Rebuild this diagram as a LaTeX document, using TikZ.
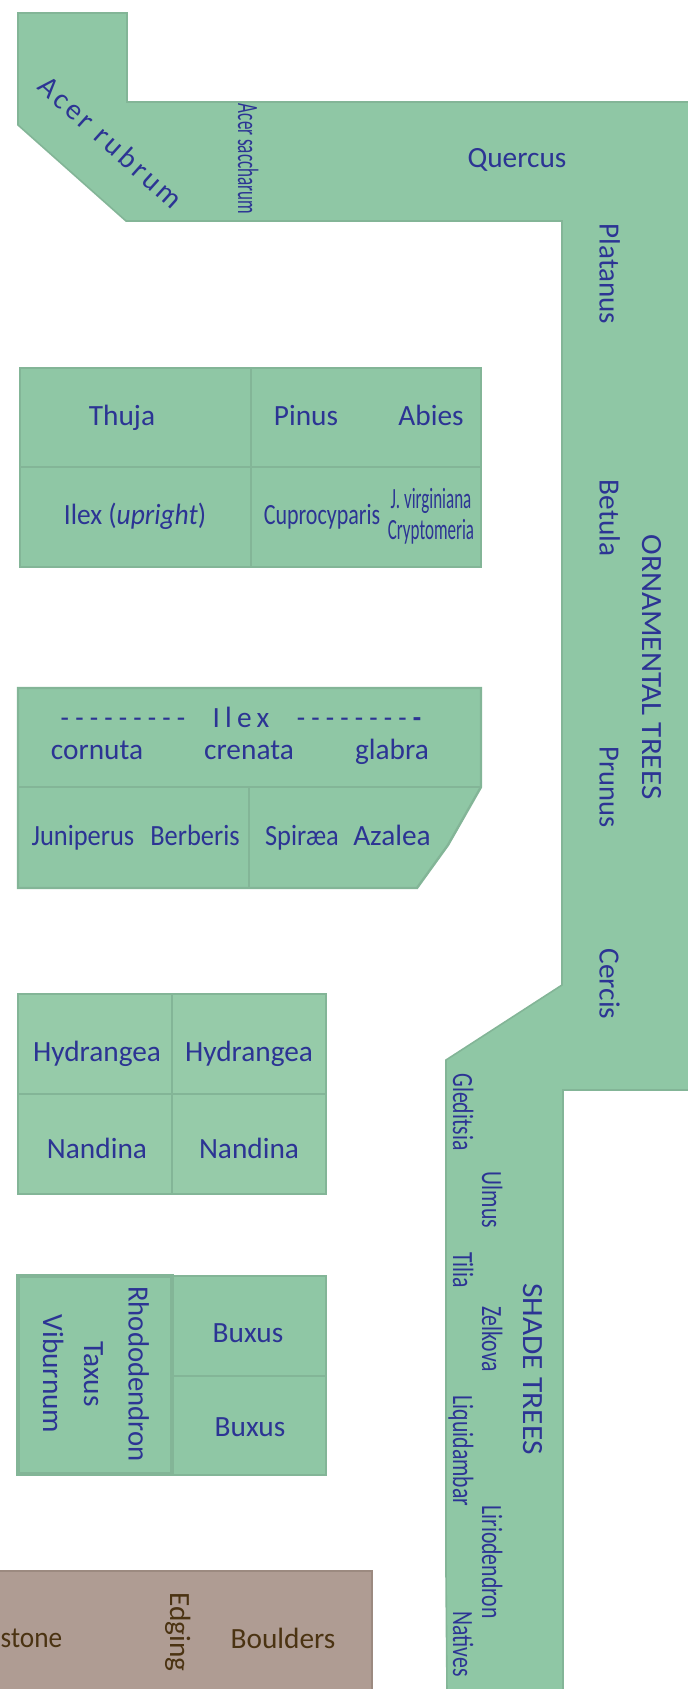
\documentclass[tikz,border=0pt]{standalone}
\usepackage{fontspec}
\setmainfont{Carlito}
\newfontfamily\spaced[LetterSpace=12]{Carlito}
\newfontfamily\spacedmore[LetterSpace=18]{Carlito}
\newcommand{\nar}[2]{\scalebox{#1}[1]{#2}}
\definecolor{bedgreen}{HTML}{8FC7A5}
\definecolor{bedpale}{HTML}{96CBA9}
\definecolor{bedline}{HTML}{83B597}
\definecolor{plantblue}{HTML}{2C3494}
\definecolor{stonefill}{HTML}{AF9C93}
\definecolor{stoneline}{HTML}{9C8A80}
\definecolor{stonetext}{HTML}{4B3312}

\begin{document}
\begin{tikzpicture}[x=.75pt,y=-.75pt,font=\fontsize{22}{24}\selectfont,inner sep=0pt]
        \tikzstyle{band}=[fill=bedgreen, draw=bedline, line width=1.2pt, line join=miter]
        \tikzstyle{bed}=[fill=bedgreen, draw=bedline, line width=1.8pt]
        \tikzstyle{palebed}=[fill=bedpale, draw=bedline, line width=1.8pt]
        \tikzstyle{inner}=[draw=bedline, line width=1.5pt]
        \tikzstyle{plant}=[text=plantblue, anchor=base]
        \tikzstyle{plantdown}=[text=plantblue, rotate=-90, anchor=base]
        \tikzstyle{rock}=[text=stonetext, anchor=base]

        \useasboundingbox (0,0) rectangle (687,1689);

        % tree belt
        \draw[band] (18,13) -- (127,13) -- (127,102) -- (690,102) -- (690,1090) -- (563,1090) -- (563,1692)
              -- (447,1692) -- (446,1572) -- (446,1060) -- (562,985) -- (562,221) -- (126,221) -- (18,125) -- cycle;

        \node[text=plantblue, rotate=-42] (rubrum) at (111,142) {\spaced Acer rubrum};
        \node[plantdown] (saccharum) at (238,159) {\nar{.58}{Acer saccharum}};
        \node[plant] (quercus) at (517,167) {Quercus};
        \node[plantdown] (platanus) at (599.5,274) {\nar{.99}{Platanus}};
        \node[plantdown] (betula) at (599.5,518) {Betula};
        \node[plantdown] (prunus) at (599.5,787) {\nar{.97}{Prunus}};
        \node[plantdown] (cercis) at (599.5,984) {Cercis};
        \node[plantdown] (ornamental) at (642,667) {\nar{1.06}{ORNAMENTAL TREES}};
        \node[plantdown] (gleditsia) at (453,1112) {\nar{.74}{Gleditsia}};
        \node[plantdown] (ulmus) at (482,1200) {\nar{.74}{Ulmus}};
        \node[plantdown] (tilia) at (453,1270) {\nar{.74}{Tilia}};
        \node[plantdown] (zelkova) at (482,1339) {\nar{.74}{Zelkova}};
        \node[plantdown] (liquidambar) at (453,1451) {\nar{.74}{Liquidambar}};
        \node[plantdown] (liriodendron) at (482,1562) {\nar{.74}{Liriodendron}};
        \node[plantdown] (natives) at (453,1644) {\nar{.74}{Natives}};
        \node[plantdown] (shade) at (523,1369) {\nar{1.07}{SHADE TREES}};

        % conifers and holly
        \draw[bed] (20,368) rectangle (481,567);
        \draw[inner] (20,467) -- (481,467);
        \draw[inner] (251,368) -- (251,567);
        \node[plant] (thuja) at (122,425) {Thuja};
        \node[plant] (pinus) at (306,425) {Pinus};
        \node[plant] (abies) at (431,425) {Abies};
        \node[plant] (upright) at (135,524) {\nar{.935}{Ilex (\textit{upright})}};
        \node[plant] (cuprocyparis) at (322,524) {\nar{.75}{Cuprocyparis}};
        \node[plant] (virginiana) at (431,508) {\nar{.58}{J. virginiana}};
        \node[plant] (cryptomeria) at (431,539) {\nar{.58}{Cryptomeria}};

        % ilex bed
        \draw[bed] (18,688) -- (481,688) -- (481,787) -- (448,845) -- (417,888) -- (18,888) -- cycle;
        \draw[inner] (18,787) -- (481,787);
        \draw[inner] (249,787) -- (249,888);
        \node[plant] (dashleft) at (123,727) {\nar{.93}{- - - - - - - - -}};
        \node[plant] (ilex) at (241,727) {\spacedmore Ilex};
        \node[plant] (dashright) at (359,727) {\nar{.93}{- - - - - - - - \textbf{-}}};
        \node[plant] (cornuta) at (97,759) {cornuta};
        \node[plant] (crenata) at (249,759) {crenata};
        \node[plant] (glabra) at (392,759) {glabra};
        \node[plant] (juniperus) at (83,845) {\nar{.9}{Juniperus}};
        \node[plant] (berberis) at (195,845) {\nar{.9}{Berberis}};
        \node[plant] (spiraea) at (302,845) {\nar{.9}{Spiræa}};
        \node[plant] (azalea) at (392,845) {Azalea};

        % shrubs
        \draw[palebed] (18,994) rectangle (326,1194);
        \draw[bed, fill=none] (18,1094) -- (326,1094);
        \draw[bed, fill=none] (172,994) -- (172,1194);
        \node[plant] (hydrangeaA) at (97,1061) {Hydrangea};
        \node[plant] (hydrangeaB) at (249,1061) {Hydrangea};
        \node[plant] (nandinaA) at (97,1158) {Nandina};
        \node[plant] (nandinaB) at (249,1158) {Nandina};

        \draw[bed] (172,1276) rectangle (326,1475);
        \draw[inner] (172,1376) -- (326,1376);
        \draw[bed, line width=2.4pt] (18,1276) rectangle (172,1474);
        \node[plantdown] (rhododendron) at (128.5,1374) {\nar{.98}{Rhododendron}};
        \node[plantdown] (taxus) at (84,1374) {Taxus};
        \node[plantdown] (viburnum) at (43,1374) {Viburnum};
        \node[plant] (buxusA) at (248,1342) {Buxus};
        \node[plant] (buxusB) at (250,1436) {Buxus};

        % stone strip
        \draw[fill=stonefill, draw=stoneline, line width=1.2pt] (-3,1571) rectangle (372,1692);
        \node[rock] (stone) at (31.5,1647.5) {\nar{.93}{stone}};
        \node[rock, rotate=-90] (edging) at (170,1632) {Edging};
        \node[rock] (boulders) at (283,1648) {Boulders};
\end{tikzpicture}
\end{document}
